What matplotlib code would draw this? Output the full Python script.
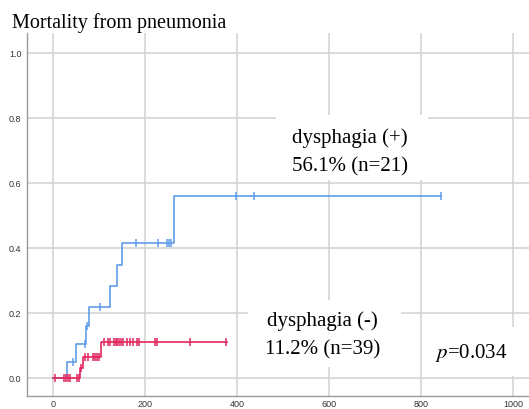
"""Cumulative mortality from pneumonia, dysphagia (+) vs (-)."""

import matplotlib
matplotlib.use("Agg")
import matplotlib.pyplot as plt
from matplotlib.patches import Rectangle

# dysphagia (+) : step times / cumulative mortality, censor marks
pos_t = [0, 30, 51, 73, 78, 125, 140, 151, 263, 844]
pos_v = [0, 0.051, 0.105, 0.160, 0.220, 0.285, 0.350, 0.417, 0.561, 0.561]
pos_cens_t = [45, 71, 75, 103, 181, 229, 249, 253, 257, 398, 437, 844]
pos_cens_v = [0.051, 0.105, 0.160, 0.220, 0.417, 0.417, 0.417, 0.417, 0.417,
              0.561, 0.561, 0.561]

# dysphagia (-)
neg_t = [0, 59, 65, 105, 379]
neg_v = [0, 0.031, 0.066, 0.111, 0.111]
neg_cens_t = [5, 25, 29, 34, 38, 52, 57, 62,
              70, 76, 88, 92, 97, 101,
              111, 119, 124, 133, 137, 140, 144, 148, 153, 161, 168, 175,
              182, 188, 221, 227, 298, 376]
neg_cens_v = [0.0] * 7 + [0.031] + [0.066] * 6 + [0.111] * 18

x_ticks = [0, 200, 400, 600, 800, 1000]
y_ticks = [0.0, 0.2, 0.4, 0.6, 0.8, 1.0]

BLUE = "#5f9de8"
RED = "#e2265c"
SERIF = "Liberation Serif"

plt.rcParams["mathtext.fontset"] = "stix"

fig = plt.figure(figsize=(5.29, 4.09), dpi=100)
ax = fig.add_axes([0.051, 0.0318, 0.949, 0.8875])

ax.set_xlim(-56, 1034)
ax.set_ylim(-0.0545, 1.0625)
ax.set_xticks(x_ticks)
ax.set_yticks(y_ticks)
ax.set_yticklabels([f"{v:.1f}" for v in y_ticks])
ax.tick_params(length=0, labelsize=6.5, labelcolor="#333333", pad=4)
ax.tick_params(axis="x", pad=3)
for lab in ax.get_xticklabels() + ax.get_yticklabels():
    lab.set_family("Liberation Sans")

ax.set_axisbelow(True)
ax.grid(True, color="#d4d4d4", linewidth=1.2)
for side in ("top", "right"):
    ax.spines[side].set_visible(False)
for side in ("left", "bottom"):
    ax.spines[side].set_color("#9a9a9a")
    ax.spines[side].set_linewidth(1.0)

# white boxes behind the annotations hide the grid
boxes = [(0.496, 0.595, 0.303, 0.179),
         (0.440, 0.080, 0.305, 0.184),
         (0.803, 0.055, 0.197, 0.135)]
for x0, y0, w, h in boxes:
    ax.add_patch(Rectangle((x0, y0), w, h, transform=ax.transAxes,
                           facecolor="white", edgecolor="none", zorder=1))

ax.step(pos_t, pos_v, where="post", color=BLUE, linewidth=1.2, zorder=3)
ax.plot(pos_cens_t, pos_cens_v, linestyle="none", marker="|", markersize=5.5,
        markeredgewidth=1.1, color=BLUE, zorder=3)
ax.step(neg_t, neg_v, where="post", color=RED, linewidth=1.2, zorder=4)
ax.plot(neg_cens_t, neg_cens_v, linestyle="none", marker="|", markersize=5.5,
        markeredgewidth=1.1, color=RED, zorder=4)

ax.text(0.643, 0.672, "dysphagia (+)\n56.1% (n=21)", transform=ax.transAxes,
        ha="center", va="center", fontsize=15, family=SERIF,
        linespacing=1.65, zorder=5)
ax.text(0.588, 0.166, "dysphagia (-)\n11.2% (n=39)", transform=ax.transAxes,
        ha="center", va="center", fontsize=15, family=SERIF,
        linespacing=1.65, zorder=5)
ax.text(0.884, 0.118, r"$p$=0.034", transform=ax.transAxes,
        ha="center", va="center", fontsize=15, family=SERIF, zorder=5)

fig.text(12 / 529, (409 - 28.3) / 409, "Mortality from pneumonia",
         ha="left", va="baseline", fontsize=14.5, family=SERIF)

fig.savefig("out.png", dpi=100)
